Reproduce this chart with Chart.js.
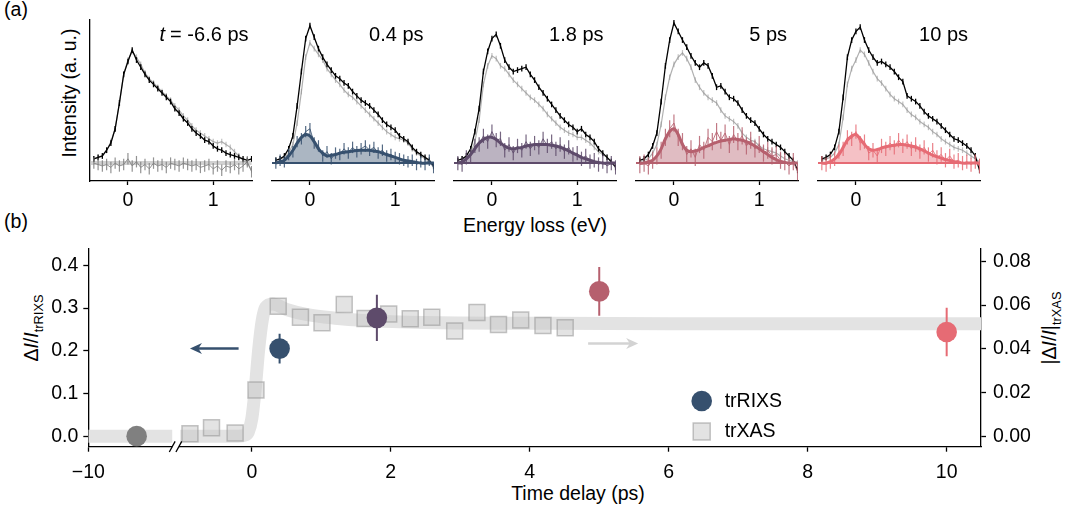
<!DOCTYPE html>
<html>
<head>
<meta charset="utf-8">
<script src="https://cdn.jsdelivr.net/npm/chart.js@4.4.1/dist/chart.umd.min.js"></script>
<style>
  body { margin: 0; background: #fff; }
  #fig { position: relative; width: 1068px; height: 508px; overflow: hidden;
         font-family: "Liberation Sans", Arial, sans-serif; color: #000; }
  #fig canvas { position: absolute; }
  .lbl { position: absolute; font-size: 19.5px; line-height: 1; white-space: nowrap; }
  .ctr { transform: translate(-50%, -50%); }
  .rot { transform: translate(-50%, -50%) rotate(-90deg); }
  .lbl sub { font-size: 0.66em; vertical-align: -0.35em; }
</style>
</head>
<body>
<div id="fig">
  <div class="lbl ctr" style="left:16px;top:10px">(a)</div>
  <div class="lbl ctr" style="left:16px;top:222px">(b)</div>
  <div class="lbl rot" style="left:70px;top:93px">Intensity (a. u.)</div>
  <div class="lbl ctr" style="left:535px;top:226px">Energy loss (eV)</div>
  <div class="lbl ctr" style="left:578px;top:494px">Time delay (ps)</div>
  <div class="lbl rot" style="left:34px;top:328px">&Delta;<i>I</i>/<i>I</i><sub>trRIXS</sub></div>
  <div class="lbl rot" style="left:1052px;top:328px">|&Delta;<i>I</i>/<i>I</i>|<sub>trXAS</sub></div>
</div>
<script>
// ---- (a) spectra, energy loss grid (eV) ----
const energy = [-0.40, -0.35, -0.30, -0.25, -0.20, -0.15, -0.10, -0.05, 0.00, 0.05,
                0.10, 0.15, 0.20, 0.25, 0.30, 0.35, 0.40, 0.45, 0.50, 0.55,
                0.60, 0.65, 0.70, 0.75, 0.80, 0.85, 0.90, 0.95, 1.00, 1.05,
                1.10, 1.15, 1.20, 1.25, 1.30, 1.35, 1.40, 1.45];
const energyTicks = [0, 1];
const delayLabels = ['= -6.6 ps', '0.4 ps', '1.8 ps', '5 ps', '10 ps'];

// t = -6.6 ps
const black1 = [0.03, 0.04, 0.05, 0.09, 0.14, 0.24, 0.42, 0.62, 0.71, 0.79, 0.72, 0.67, 0.62, 0.58, 0.55, 0.52, 0.49, 0.46, 0.43, 0.38, 0.35, 0.31, 0.28, 0.24, 0.21, 0.19, 0.16, 0.15, 0.12, 0.10, 0.09, 0.07, 0.06, 0.05, 0.04, 0.03, 0.02, 0.03];
const gray1  = [0.03, 0.04, 0.05, 0.09, 0.15, 0.24, 0.42, 0.62, 0.72, 0.78, 0.74, 0.69, 0.63, 0.59, 0.56, 0.53, 0.50, 0.47, 0.44, 0.40, 0.37, 0.33, 0.30, 0.26, 0.23, 0.21, 0.19, 0.17, 0.15, 0.14, 0.15, 0.13, 0.11, 0.08, 0.05, 0.02, 0.00, -0.05];
const diff1  = [0.00, -0.01, -0.02, -0.01, -0.03, 0.00, -0.02, -0.01, 0.03, -0.02, 0.01, -0.03, -0.01, -0.04, 0.00, -0.02, -0.01, -0.03, 0.00, -0.01, -0.02, 0.00, -0.01, -0.02, -0.01, -0.03, -0.02, -0.01, -0.04, -0.02, -0.05, -0.02, -0.03, -0.01, -0.04, -0.02, 0.01, -0.06];
const fit1   = [0.00, 0.00, 0.00, 0.00, 0.00, 0.00, 0.00, 0.00, 0.00, 0.00, 0.00, 0.00, 0.00, 0.00, 0.00, 0.00, 0.00, 0.00, 0.00, 0.00, 0.00, 0.00, 0.00, 0.00, 0.00, 0.00, 0.00, 0.00, 0.00, 0.00, 0.00, 0.00, 0.00, 0.00, 0.00, 0.00, 0.00, 0.00];
// 0.4 ps
const black2 = [0.02, 0.03, 0.05, 0.10, 0.19, 0.40, 0.64, 0.87, 0.96, 0.88, 0.80, 0.74, 0.69, 0.65, 0.61, 0.59, 0.56, 0.54, 0.50, 0.47, 0.44, 0.42, 0.40, 0.37, 0.34, 0.30, 0.27, 0.25, 0.23, 0.19, 0.17, 0.15, 0.11, 0.08, 0.06, 0.04, 0.02, -0.02];
const gray2  = [0.02, 0.03, 0.04, 0.07, 0.13, 0.28, 0.50, 0.74, 0.84, 0.80, 0.76, 0.72, 0.66, 0.62, 0.58, 0.55, 0.51, 0.48, 0.46, 0.43, 0.40, 0.37, 0.34, 0.31, 0.28, 0.25, 0.22, 0.20, 0.18, 0.17, 0.16, 0.14, 0.10, 0.07, 0.05, 0.03, 0.01, -0.03];
const diff2  = [0.00, 0.02, 0.01, 0.06, 0.08, 0.15, 0.17, 0.22, 0.24, 0.14, 0.12, 0.05, 0.08, 0.03, 0.07, 0.06, 0.10, 0.07, 0.11, 0.08, 0.10, 0.12, 0.09, 0.11, 0.07, 0.09, 0.05, 0.06, 0.04, 0.03, 0.02, 0.01, 0.02, -0.01, 0.01, -0.01, 0.02, -0.03];
const fit2   = [0.00, 0.01, 0.02, 0.05, 0.09, 0.14, 0.18, 0.20, 0.19, 0.15, 0.10, 0.07, 0.05, 0.055, 0.06, 0.07, 0.075, 0.08, 0.085, 0.088, 0.09, 0.09, 0.09, 0.085, 0.08, 0.07, 0.06, 0.05, 0.04, 0.03, 0.02, 0.015, 0.01, 0.005, 0.00, 0.00, 0.00, 0.00];
// 1.8 ps
const black3 = [0.02, 0.03, 0.05, 0.10, 0.22, 0.38, 0.64, 0.78, 0.87, 0.90, 0.82, 0.72, 0.67, 0.64, 0.65, 0.66, 0.67, 0.62, 0.58, 0.53, 0.49, 0.45, 0.41, 0.37, 0.33, 0.30, 0.27, 0.25, 0.22, 0.24, 0.20, 0.18, 0.15, 0.10, 0.07, 0.04, 0.01, -0.03];
const gray3  = [0.02, 0.03, 0.04, 0.07, 0.15, 0.30, 0.55, 0.68, 0.75, 0.73, 0.68, 0.66, 0.62, 0.58, 0.55, 0.52, 0.49, 0.46, 0.44, 0.41, 0.38, 0.34, 0.31, 0.28, 0.25, 0.23, 0.21, 0.20, 0.18, 0.18, 0.16, 0.14, 0.11, 0.08, 0.06, 0.04, 0.01, -0.02];
const diff3  = [0.00, -0.01, 0.04, 0.05, 0.12, 0.13, 0.19, 0.15, 0.22, 0.16, 0.17, 0.09, 0.13, 0.07, 0.12, 0.09, 0.15, 0.10, 0.14, 0.11, 0.17, 0.12, 0.15, 0.10, 0.13, 0.08, 0.11, 0.06, 0.07, 0.03, 0.05, 0.01, 0.02, -0.01, 0.01, -0.02, 0.00, -0.03];
const fit3   = [0.00, 0.01, 0.03, 0.06, 0.10, 0.14, 0.165, 0.18, 0.18, 0.165, 0.14, 0.12, 0.105, 0.10, 0.105, 0.11, 0.12, 0.125, 0.13, 0.13, 0.13, 0.13, 0.125, 0.12, 0.11, 0.10, 0.085, 0.07, 0.055, 0.04, 0.03, 0.02, 0.01, 0.005, 0.00, 0.00, 0.00, 0.00];
// 5 ps
const black4 = [0.02, 0.03, 0.06, 0.12, 0.21, 0.43, 0.68, 0.86, 0.98, 0.92, 0.86, 0.81, 0.75, 0.70, 0.67, 0.70, 0.68, 0.61, 0.53, 0.54, 0.50, 0.46, 0.45, 0.42, 0.37, 0.33, 0.30, 0.28, 0.24, 0.20, 0.17, 0.15, 0.13, 0.11, 0.08, 0.05, 0.02, -0.05];
const gray4  = [0.01, 0.02, 0.03, 0.07, 0.13, 0.27, 0.46, 0.60, 0.69, 0.74, 0.77, 0.73, 0.67, 0.58, 0.53, 0.49, 0.46, 0.44, 0.42, 0.37, 0.33, 0.31, 0.29, 0.26, 0.21, 0.18, 0.16, 0.15, 0.12, 0.10, 0.09, 0.08, 0.07, 0.05, 0.03, 0.02, 0.01, 0.00];
const diff4  = [-0.01, 0.00, -0.02, 0.02, 0.05, 0.09, 0.18, 0.24, 0.28, 0.18, 0.15, 0.06, 0.10, 0.04, 0.13, 0.09, 0.18, 0.15, 0.22, 0.16, 0.21, 0.13, 0.20, 0.15, 0.19, 0.12, 0.16, 0.10, 0.13, 0.07, 0.09, 0.05, 0.06, 0.02, 0.01, -0.02, 0.01, -0.06];
const fit4   = [0.00, 0.00, 0.01, 0.02, 0.05, 0.10, 0.17, 0.22, 0.24, 0.20, 0.13, 0.09, 0.08, 0.085, 0.095, 0.11, 0.12, 0.135, 0.145, 0.155, 0.16, 0.165, 0.17, 0.165, 0.16, 0.15, 0.135, 0.12, 0.10, 0.08, 0.06, 0.04, 0.025, 0.01, 0.005, 0.00, 0.00, 0.00];
// 10 ps
const black5 = [0.03, 0.04, 0.06, 0.11, 0.22, 0.46, 0.74, 0.86, 0.92, 0.95, 0.86, 0.79, 0.74, 0.70, 0.71, 0.69, 0.67, 0.64, 0.60, 0.57, 0.47, 0.45, 0.43, 0.40, 0.36, 0.33, 0.31, 0.29, 0.26, 0.23, 0.20, 0.17, 0.16, 0.14, 0.12, 0.09, 0.05, -0.05];
const gray5  = [0.02, 0.03, 0.04, 0.07, 0.13, 0.32, 0.55, 0.66, 0.72, 0.79, 0.76, 0.70, 0.64, 0.59, 0.56, 0.52, 0.48, 0.45, 0.43, 0.41, 0.37, 0.34, 0.32, 0.29, 0.27, 0.25, 0.22, 0.20, 0.17, 0.15, 0.13, 0.11, 0.10, 0.09, 0.07, 0.05, 0.03, 0.01];
const diff5  = [0.00, -0.01, 0.01, 0.03, 0.08, 0.10, 0.18, 0.17, 0.22, 0.14, 0.15, 0.07, 0.09, 0.05, 0.12, 0.10, 0.14, 0.11, 0.16, 0.12, 0.15, 0.10, 0.13, 0.08, 0.11, 0.06, 0.09, 0.04, 0.06, 0.02, 0.05, 0.01, 0.02, 0.00, 0.01, -0.01, 0.01, -0.02];
const fit5   = [0.00, 0.00, 0.01, 0.03, 0.06, 0.11, 0.16, 0.19, 0.20, 0.17, 0.13, 0.10, 0.09, 0.095, 0.105, 0.115, 0.12, 0.125, 0.13, 0.13, 0.125, 0.12, 0.11, 0.10, 0.085, 0.07, 0.055, 0.045, 0.035, 0.025, 0.02, 0.01, 0.005, 0.00, 0.00, 0.00, 0.00, 0.00];

const specErr = 0.02;
const diffErr = [0.04, 0.04, 0.05, 0.06, 0.05];

// ---- (b) time dependence ----
const rixsDelay  = [-6.6, 0.4, 1.8, 5, 10];
const rixsSignal = [0.0, 0.205, 0.277, 0.339, 0.244];
const rixsError  = [0.0, 0.035, 0.054, 0.057, 0.057];
const xasDelay  = [-0.89, -0.58, -0.24, 0.06, 0.38, 0.70, 1.01, 1.33, 1.63, 1.97, 2.28, 2.59, 2.92, 3.24, 3.55, 3.87, 4.19, 4.51];
const xasSignal = [0.0011, 0.0039, 0.0015, 0.0211, 0.0595, 0.0544, 0.0519, 0.0603, 0.0539, 0.0559, 0.0537, 0.0544, 0.0481, 0.0566, 0.0511, 0.0532, 0.0507, 0.0496];
const fitLeftDelay  = [-10, -4.1];
const fitLeftSignal = [0, 0];
const fitDelay  = [-1.03, -0.5, -0.2, -0.1, -0.05, 0.0, 0.05, 0.1, 0.15, 0.2, 0.3, 0.5, 0.8, 1.2, 1.6, 2.5, 4, 6, 10.6];
const fitSignal = [0, 0, 0, 0.0005, 0.002, 0.008, 0.022, 0.040, 0.053, 0.059, 0.0605, 0.058, 0.0556, 0.054, 0.053, 0.052, 0.0517, 0.0515, 0.0515];
const timeTicks  = [-10, 0, 2, 4, 6, 8, 10];
const leftTicks  = [0, 0.1, 0.2, 0.3, 0.4];
const rightTicks = [0, 0.02, 0.04, 0.06, 0.08];

const palette = ['#808080', '#36506e', '#5e4b6b', '#b6606e', '#e66b74'];
const FONT = '"Liberation Sans", Arial, sans-serif';

Chart.defaults.font.family = FONT;
Chart.defaults.font.size = 19.5;
Chart.defaults.color = '#000';
Chart.defaults.animation = false;
Chart.defaults.events = [];
Chart.defaults.plugins.legend.display = false;
Chart.defaults.plugins.tooltip.enabled = false;

function alpha(hex, a) {
    const n = parseInt(hex.slice(1), 16);
    return `rgba(${n >> 16},${(n >> 8) & 255},${n & 255},${a})`;
}

// vertical error bars, drawn just before their dataset
const errorBars = {
    id: 'errorBars',
    beforeDatasetDraw(chart, args) {
        const ds = chart.data.datasets[args.index];
        if (!ds.errors) return;
        const meta = args.meta;
        const yScale = chart.scales[meta.yAxisID];
        const { ctx, chartArea } = chart;
        ctx.save();
        ctx.beginPath();
        ctx.rect(chartArea.left, chartArea.top, chartArea.right - chartArea.left, chartArea.bottom - chartArea.top);
        ctx.clip();
        ctx.lineWidth = ds.errorWidth || 1;
        meta.data.forEach((pt, i) => {
            const e = Array.isArray(ds.errors) ? ds.errors[i] : ds.errors;
            if (!e) return;
            const v = ds.data[i].y;
            ctx.strokeStyle = Array.isArray(ds.errorColor) ? ds.errorColor[i] : ds.errorColor;
            ctx.beginPath();
            ctx.moveTo(pt.x, yScale.getPixelForValue(v + e));
            ctx.lineTo(pt.x, yScale.getPixelForValue(v - e));
            ctx.stroke();
        });
        ctx.restore();
    }
};
Chart.register(errorBars);

// delay label in the top right corner of each spectrum
const panelText = {
    id: 'panelText',
    afterDraw(chart, args, opts) {
        if (!opts.text) return;
        const { ctx, chartArea } = chart;
        const x = chartArea.right - opts.right, y = 35;
        ctx.save();
        ctx.fillStyle = '#000';
        ctx.textBaseline = 'middle';
        ctx.textAlign = 'right';
        ctx.font = `20px ${FONT}`;
        ctx.fillText(opts.text, x, y);
        if (opts.italic) {
            const w = ctx.measureText(opts.text).width;
            ctx.font = `italic 20px ${FONT}`;
            ctx.fillText(opts.italic, x - w - 5, y);
        }
        ctx.restore();
    }
};
Chart.register(panelText);

const fig = document.getElementById('fig');
function addCanvas(left, top, w, h) {
    const c = document.createElement('canvas');
    c.width = w; c.height = h;
    c.style.left = left + 'px'; c.style.top = top + 'px';
    fig.appendChild(c);
    return c;
}

// ---- top row ----
const spectra = [
    { black: black1, gray: gray1, diff: diff1, fit: fit1 },
    { black: black2, gray: gray2, diff: diff2, fit: fit2 },
    { black: black3, gray: gray3, diff: diff3, fit: fit3 },
    { black: black4, gray: gray4, diff: diff4, fit: fit4 },
    { black: black5, gray: gray5, diff: diff5, fit: fit5 }
];
const panelLeft = [89.5, 271.7, 453.9, 636.1, 818.3];
const labelRight = [3.5, 10.5, 12.5, 11, 12];
const panelW = 162;

spectra.forEach((s, k) => {
    const pts = arr => energy.map((e, i) => ({ x: e, y: arr[i] }));
    const col = palette[k];
    const canvas = addCanvas(panelLeft[k] - 3, 0, panelW + 6, 215);
    const first = k === 0;
    new Chart(canvas, {
        type: 'line',
        data: {
            datasets: [
                { data: pts(s.fit), borderWidth: 0, pointRadius: 0, tension: 0.3,
                  fill: { value: 0 }, backgroundColor: first ? 'rgba(180,180,180,0.35)' : alpha(col, 0.42), order: 7 },
                { data: [{ x: energy[0] - 0.05, y: 0 }, { x: energy[energy.length - 1], y: 0 }],
                  borderColor: first ? 'rgba(190,190,190,0.7)' : col, borderWidth: first ? 4 : 2, pointRadius: 0, order: 6 },
                { data: pts(s.gray), borderColor: 'rgba(150,150,150,0.75)', borderWidth: 1.2, pointRadius: 0,
                  errors: specErr, errorColor: 'rgba(150,150,150,0.6)', errorWidth: 1.2, order: 5 },
                { data: pts(s.black), borderColor: '#000', borderWidth: 1.3, pointRadius: 0,
                  errors: specErr, errorColor: '#000', errorWidth: 1.3, order: 4 },
                { data: pts(s.diff), borderColor: alpha(col, 0.85), borderWidth: 1, pointRadius: 0,
                  errors: diffErr[k], errorColor: alpha(col, 0.85), errorWidth: 1.2, order: 3 },
                { data: pts(s.fit), borderColor: first ? 'rgba(0,0,0,0)' : col, borderWidth: 3, pointRadius: 0,
                  tension: 0.3, fill: false, order: 2 }
            ]
        },
        options: {
            responsive: false,
            layout: { padding: { left: 3, right: 3, top: 20, bottom: 0 } },
            scales: {
                x: {
                    type: 'linear', min: -0.445, max: 1.455,
                    afterBuildTicks: sc => { sc.ticks = energyTicks.map(v => ({ value: v })); },
                    ticks: { callback: v => String(v), padding: 4, maxRotation: 0, autoSkip: false },
                    grid: { drawOnChartArea: false, tickLength: 4, tickColor: '#000', tickWidth: 1.3 },
                    border: { display: true, color: '#000', width: 1.3 },
                    afterFit: sc => { sc.height = 34; }
                },
                y: {
                    type: 'linear', min: -0.125, max: 1.0, display: first,
                    ticks: { display: false },
                    grid: { display: false },
                    border: { display: true, color: '#000', width: 1.3 },
                    afterFit: sc => { sc.width = 0; }
                }
            },
            plugins: {
                panelText: { text: delayLabels[k], italic: first ? 't' : '', right: labelRight[k] }
            }
        }
    });
});

// ---- bottom panel: broken time axis ----
// -10..-4 ps squeezed into the left stub, -1..10.5 ps linear
function toU(t) { return t < -2 ? -2.353 + (t + 10) * 0.2047 : t; }
function fromU(u) { return u < -1.1 ? (u + 2.353) / 0.2047 - 10 : u; }
function fmtTime(t) {
    const r = Math.round(t);
    return r < 0 ? '\u2212' + Math.abs(r) : String(r);
}

function drawArrow(ctx, x0, yy, x1, color) {
    const dir = Math.sign(x1 - x0), head = 12, half = 5.5;
    ctx.save();
    ctx.strokeStyle = color; ctx.fillStyle = color; ctx.lineWidth = 2.5;
    ctx.beginPath(); ctx.moveTo(x0, yy); ctx.lineTo(x1 - dir * head * 0.6, yy); ctx.stroke();
    ctx.beginPath();
    ctx.moveTo(x1, yy);
    ctx.lineTo(x1 - dir * head, yy - half);
    ctx.lineTo(x1 - dir * head * 0.7, yy);
    ctx.lineTo(x1 - dir * head, yy + half);
    ctx.closePath(); ctx.fill();
    ctx.restore();
}

const xasFill = 'rgba(200,200,200,0.5)';
const xasEdge = 'rgba(150,150,150,0.55)';

const timeDecor = {
    id: 'timeDecor',
    afterDatasetsDraw(chart) {
        const { ctx, scales: { x, y, y2 } } = chart;
        // arrows pointing at the matching axis
        drawArrow(ctx, x.getPixelForValue(-0.19), y.getPixelForValue(0.205), x.getPixelForValue(-0.89), palette[1]);
        drawArrow(ctx, x.getPixelForValue(4.84), y2.getPixelForValue(0.0424), x.getPixelForValue(5.56), '#d3d3d3');
    },
    afterDraw(chart) {
        const { ctx, chartArea, scales: { x } } = chart;
        // axis break
        const base = chartArea.bottom;
        const xa = x.getPixelForValue(toU(-4.1)), xb = x.getPixelForValue(-1.05);
        ctx.save();
        ctx.fillStyle = '#fff';
        ctx.fillRect(xa, base - 2, xb - xa, 4);
        ctx.strokeStyle = '#000'; ctx.lineWidth = 1.3;
        [xa, xb].forEach(px => {
            ctx.beginPath(); ctx.moveTo(px - 2.9, base + 5.3); ctx.lineTo(px + 2.9, base - 5.3); ctx.stroke();
        });
        // legend
        const lx = chartArea.left + 613.4, ly = chartArea.top + 152.3;
        ctx.fillStyle = palette[1];
        ctx.beginPath(); ctx.arc(lx, ly, 10.3, 0, Math.PI * 2); ctx.fill();
        ctx.fillStyle = xasFill; ctx.strokeStyle = xasEdge; ctx.lineWidth = 1.5;
        ctx.fillRect(lx - 8.5, ly + 22, 17, 17);
        ctx.strokeRect(lx - 8.5, ly + 22, 17, 17);
        ctx.fillStyle = '#000';
        ctx.font = `19.5px ${FONT}`;
        ctx.textBaseline = 'middle';
        ctx.fillText('trRIXS', lx + 23, ly + 1);
        ctx.fillText('trXAS', lx + 23, ly + 31);
        ctx.restore();
    }
};

const timeCanvas = addCanvas(0, 230, 1068, 278);
new Chart(timeCanvas, {
    type: 'line',
    data: {
        datasets: [
            { data: fitLeftDelay.map((t, i) => ({ x: toU(t), y: fitLeftSignal[i] })), yAxisID: 'y2',
              borderColor: '#e3e3e3', borderWidth: 13, borderCapStyle: 'butt', pointRadius: 0, clip: 0, order: 5 },
            { data: fitDelay.map((t, i) => ({ x: toU(t), y: fitSignal[i] })), yAxisID: 'y2',
              borderColor: '#e3e3e3', borderWidth: 13, borderCapStyle: 'butt', borderJoinStyle: 'round',
              cubicInterpolationMode: 'monotone', pointRadius: 0, clip: 0, order: 4 },
            { data: xasDelay.map((t, i) => ({ x: toU(t), y: xasSignal[i] })), yAxisID: 'y2', showLine: false,
              pointStyle: 'rect', pointRadius: 11.3, backgroundColor: xasFill, borderColor: xasEdge,
              pointBorderWidth: 1.5, order: 3 },
            { data: rixsDelay.map((t, i) => ({ x: toU(t), y: rixsSignal[i] })), yAxisID: 'y', showLine: false,
              pointRadius: 10.3, pointBorderWidth: 0, backgroundColor: palette, borderColor: palette,
              errors: rixsError, errorColor: palette, errorWidth: 2, order: 1 }
        ]
    },
    options: {
        responsive: false,
        layout: { padding: { left: 0, right: 0, top: 10, bottom: 0 } },
        scales: {
            x: {
                type: 'linear', min: -2.353, max: 10.494,
                afterBuildTicks: sc => { sc.ticks = timeTicks.map(t => ({ value: toU(t) })); },
                ticks: { callback: v => fmtTime(fromU(v)), padding: 9, maxRotation: 0, autoSkip: false },
                grid: { drawOnChartArea: false, tickLength: 5, tickColor: '#000', tickWidth: 1.3 },
                border: { display: true, color: '#000', width: 1.3 },
                afterFit: sc => { sc.height = 61.3; }
            },
            y: {
                type: 'linear', position: 'left', min: -0.0247, max: 0.439,
                afterBuildTicks: sc => { sc.ticks = leftTicks.map(v => ({ value: v })); },
                ticks: { callback: v => v.toFixed(1), padding: 5 },
                grid: { drawOnChartArea: false, tickLength: 5, tickColor: '#000', tickWidth: 1.3 },
                border: { display: true, color: '#000', width: 1.3 },
                afterFit: sc => { sc.width = 88.3; }
            },
            y2: {
                type: 'linear', position: 'right', min: -0.0048, max: 0.0858,
                afterBuildTicks: sc => { sc.ticks = rightTicks.map(v => ({ value: v })); },
                ticks: { callback: v => v.toFixed(2), padding: 7 },
                grid: { drawOnChartArea: false, tickLength: 5, tickColor: '#000', tickWidth: 1.3 },
                border: { display: true, color: '#000', width: 1.3 },
                afterFit: sc => { sc.width = 87; }
            }
        }
    },
    plugins: [timeDecor]
});
</script>
</body>
</html>
